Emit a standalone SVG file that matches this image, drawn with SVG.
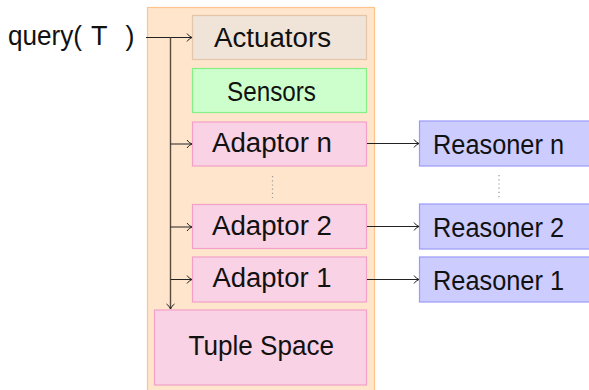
<svg xmlns="http://www.w3.org/2000/svg" width="589" height="390" viewBox="0 0 589 390">
  <style>
    .lbl { font-family: "Liberation Sans", "DejaVu Sans", sans-serif; font-size: 27px; fill: #111; }
    .box { stroke-width: 1.2; }
    .act { fill: #f0e4d8; stroke: #e2c6aa; }
    .sen { fill: #ccffcc; stroke: #88ee88; }
    .pink { fill: #f9d2e5; stroke: #f2a0c8; }
    .rea { fill: #ccccff; stroke: #9a9af8; }
    .wire { fill: none; stroke: #222; stroke-width: 1; }
    .dots { fill: none; stroke: #999; stroke-width: 1.2; stroke-dasharray: 1.2 3; }
  </style>
  <defs>
    <marker id="to" markerWidth="8" markerHeight="10" refX="6" refY="5" orient="auto" markerUnits="userSpaceOnUse">
      <path d="M1,1 Q3,4 6,5 Q3,6 1,9" fill="none" stroke="#222" stroke-width="1"/>
    </marker>
  </defs>

  <!-- container -->
  <rect id="container" x="147.5" y="7.5" width="227" height="390" fill="#ffe5cc" stroke="#ffc48c" stroke-width="1.2"/>

  <g id="query">
    <text class="lbl" y="45"><tspan x="8" textLength="74" lengthAdjust="spacingAndGlyphs">query(</tspan><tspan x="91">T</tspan><tspan x="125.5">)</tspan></text>
  </g>

  <g id="actuators">
    <rect class="box act" x="192.5" y="15.5" width="174" height="44"/>
    <text class="lbl" x="214" y="47" textLength="117" lengthAdjust="spacingAndGlyphs">Actuators</text>
  </g>
  <g id="sensors">
    <rect class="box sen" x="192.5" y="68.5" width="174" height="44"/>
    <text class="lbl" x="227" y="101" textLength="89" lengthAdjust="spacingAndGlyphs">Sensors</text>
  </g>
  <g id="adaptor-n">
    <rect class="box pink" x="192.5" y="122" width="174" height="44"/>
    <text class="lbl" x="212" y="152" textLength="120" lengthAdjust="spacingAndGlyphs">Adaptor n</text>
  </g>
  <g id="adaptor-2">
    <rect class="box pink" x="192.5" y="204.5" width="174" height="44"/>
    <text class="lbl" x="212" y="234.5" textLength="120" lengthAdjust="spacingAndGlyphs">Adaptor 2</text>
  </g>
  <g id="adaptor-1">
    <rect class="box pink" x="192.5" y="257" width="174" height="45"/>
    <text class="lbl" x="212.5" y="287" textLength="119" lengthAdjust="spacingAndGlyphs">Adaptor 1</text>
  </g>
  <g id="tuple-space">
    <rect class="box pink" x="154.5" y="310" width="212" height="75"/>
    <text class="lbl" x="188.5" y="355" textLength="145.5" lengthAdjust="spacingAndGlyphs">Tuple Space</text>
  </g>
  <g id="reasoner-n">
    <rect class="box rea" x="419.5" y="121" width="180" height="45"/>
    <text class="lbl" x="433" y="153.5" textLength="131" lengthAdjust="spacingAndGlyphs">Reasoner n</text>
  </g>
  <g id="reasoner-2">
    <rect class="box rea" x="419.5" y="204" width="180" height="45"/>
    <text class="lbl" x="433" y="237" textLength="131" lengthAdjust="spacingAndGlyphs">Reasoner 2</text>
  </g>
  <g id="reasoner-1">
    <rect class="box rea" x="419.5" y="257" width="180" height="45"/>
    <text class="lbl" x="433" y="289.5" textLength="131" lengthAdjust="spacingAndGlyphs">Reasoner 1</text>
  </g>

  <!-- vertical ellipses between the n-th and 2nd rows -->
  <g id="ellipsis">
    <line class="dots" x1="272.5" y1="176" x2="272.5" y2="198"/>
    <line class="dots" x1="499" y1="175" x2="499" y2="198"/>
  </g>

  <g id="connectors">
    <path class="wire" d="M146,37.5 H192" marker-end="url(#to)"/>
    <path d="M170.5,37.5 V309" fill="none" stroke="#5a4a3e" stroke-width="1.4" marker-end="url(#to)"/>
    <path class="wire" d="M170.5,144 H192" marker-end="url(#to)"/>
    <path class="wire" d="M170.5,227 H192" marker-end="url(#to)"/>
    <path class="wire" d="M170.5,279.5 H192" marker-end="url(#to)"/>
    <path class="wire" d="M367,143.5 H419" marker-end="url(#to)"/>
    <path class="wire" d="M367,226.5 H419" marker-end="url(#to)"/>
    <path class="wire" d="M367,279.5 H419" marker-end="url(#to)"/>
  </g>
</svg>
